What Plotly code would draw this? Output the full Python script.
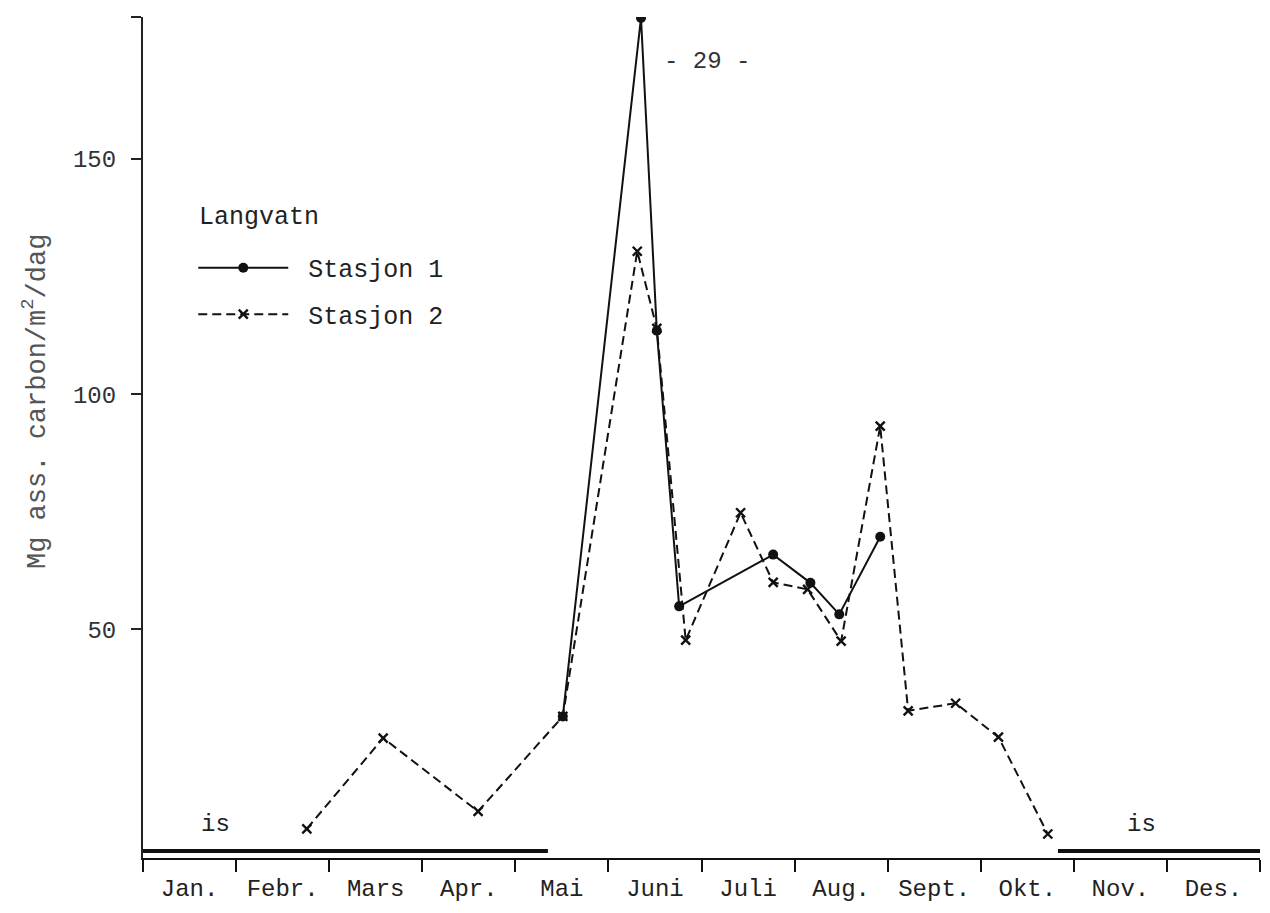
import plotly.graph_objects as go

# Month labels (centred between month boundaries; x unit = months since 1 Jan)
months = ["Jan.", "Febr.", "Mars", "Apr.", "Mai", "Juni", "Juli", "Aug.", "Sept.", "Okt.", "Nov.", "Des."]

# Stasjon 1 (solid, dots)
st1_x = [4.51, 5.35, 5.52, 5.76, 6.77, 7.17, 7.48, 7.92]
st1_y = [31.5, 180.0, 113.5, 54.9, 65.9, 59.9, 53.2, 69.7]

# Stasjon 2 (dashed, crosses)
st2_x = [1.76, 2.58, 3.60, 4.51, 5.31, 5.52, 5.83, 6.42, 6.77, 7.14, 7.50, 7.92, 8.22, 8.73, 9.19, 9.72]
st2_y = [7.6, 26.9, 11.3, 31.5, 130.4, 114.0, 47.7, 74.8, 60.0, 58.5, 47.5, 93.2, 32.7, 34.3, 27.1, 6.5]

# Ice cover periods ("is")
ice_start = [0.0, 9.83]
ice_end = [4.35, 12.0]
ice_level = 2.9
ice_label_x = [0.78, 10.73]
ice_label_y = 8.5

y_ticks = [50, 100, 150]

MONO = "Liberation Mono, Courier New, monospace"
NB = "\u00a0"

fig = go.Figure()

ice_x, ice_y = [], []
for s, e in zip(ice_start, ice_end):
    ice_x += [s, e, None]
    ice_y += [ice_level, ice_level, None]
fig.add_trace(go.Scatter(x=ice_x, y=ice_y, mode="lines", line=dict(color="#111", width=4),
                         showlegend=False, hoverinfo="skip"))

fig.add_trace(go.Scatter(x=st1_x, y=st1_y, mode="lines+markers", name=NB + "Stasjon 1",
                         legendgroup="s1",
                         line=dict(color="#111", width=2),
                         marker=dict(symbol="circle", size=10, color="#111")))
fig.add_trace(go.Scatter(x=st2_x, y=st2_y, mode="lines+markers", name=NB + "Stasjon 2",
                         legendgroup="s2",
                         line=dict(color="#111", width=2, dash="9px,5px"),
                         marker=dict(symbol="x-thin", size=9, line=dict(color="#111", width=2.4))))

# invisible trace carrying month labels on the overlay axis
fig.add_trace(go.Scatter(x=[0.5 + i for i in range(12)], y=[None] * 12, xaxis="x2",
                         showlegend=False, hoverinfo="skip"))

for lx in ice_label_x:
    fig.add_annotation(x=lx, y=ice_label_y, text="is", showarrow=False,
                       xanchor="center", yanchor="middle",
                       font=dict(family=MONO, size=24, color="#222"))

fig.add_annotation(xref="paper", yref="paper", x=0.505, y=0.947, text="- 29 -", showarrow=False,
                   xanchor="center", yanchor="middle",
                   font=dict(family=MONO, size=24, color="#333"))

# legend heading
fig.add_annotation(xref="paper", yref="paper", x=0.048, y=0.762, text="Langvatn", showarrow=False,
                   xanchor="left", yanchor="middle",
                   font=dict(family=MONO, size=25, color="#222"))

# y-axis title
fig.add_annotation(xref="paper", yref="paper", x=-0.097, y=0.543,
                   text="Mg ass. carbon/m<sup>2</sup>/dag", showarrow=False, textangle=-90,
                   xanchor="center", yanchor="middle",
                   font=dict(family=MONO, size=27, color="#555"))

fig.update_layout(
    width=1270, height=913,
    margin=dict(l=143, r=10, t=17, b=50),
    paper_bgcolor="white", plot_bgcolor="white",
    font=dict(family=MONO, size=24, color="#222"),
    xaxis=dict(range=[0, 12], tickvals=list(range(13)), ticktext=[""] * 13,
               ticks="outside", ticklen=12, tickwidth=2, tickcolor="#111",
               showline=True, linecolor="#111", linewidth=2,
               showgrid=False, zeroline=False),
    xaxis2=dict(overlaying="x", matches="x", anchor="y", side="bottom",
                tickvals=[0.5 + i for i in range(12)], ticktext=months,
                ticks="", showline=False, showgrid=False, zeroline=False,
                ticklabelstandoff=13,
                tickfont=dict(family=MONO, size=24, color="#222")),
    yaxis=dict(range=[1.4, 180.2], tickvals=y_ticks + [180.1], ticktext=[str(v) for v in y_ticks] + [""],
               ticks="outside", ticklen=10, tickwidth=2, tickcolor="#222",
               showline=True, linecolor="#222", linewidth=2,
               showgrid=False, zeroline=False, ticklabelstandoff=10,
               tickfont=dict(family=MONO, size=24, color="#333")),
    legend=dict(x=0.045, y=0.729, xanchor="left", yanchor="top",
                bgcolor="rgba(0,0,0,0)", itemwidth=90, traceorder="grouped",
                font=dict(family=MONO, size=25, color="#222"), tracegroupgap=11),
    showlegend=True,
)

fig.write_html("out.html")
